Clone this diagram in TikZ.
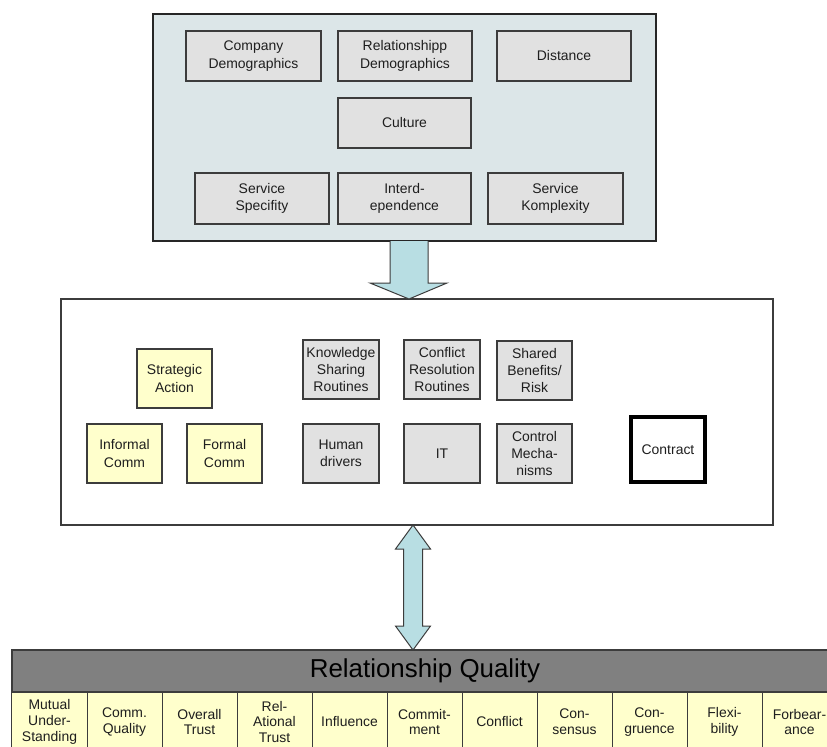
\documentclass[tikz,border=0pt]{standalone}
\usepackage{fontspec}
\setmainfont{Liberation Sans}
\usetikzlibrary{calc}
\definecolor{topfill}{HTML}{DCE6E8}
\definecolor{boxgray}{HTML}{E1E1E1}
\definecolor{boxline}{HTML}{3C3C3C}
\definecolor{pale}{HTML}{FFFFCC}
\definecolor{arrowblue}{HTML}{B8DEE3}
\definecolor{hdr}{HTML}{808080}
\definecolor{txt}{HTML}{1E1E1E}
\tikzset{
  box/.style={draw=boxline, line width=1.2bp, inner sep=0pt, outer sep=0pt, align=center, text=txt, font=\fontsize{14}{17.5}\selectfont},
  graybox/.style={box, fill=boxgray},
  yellowbox/.style={box, fill=pale},
  frame/.style={draw=boxline, inner sep=0pt, outer sep=0pt},
  fatarrow/.style={draw=boxline, fill=arrowblue, line width=1bp, line join=miter},
  cell/.style={draw=boxline, fill=pale, line width=1bp, inner sep=0pt, outer sep=0pt, minimum width=75bp, minimum height=60bp, align=center, text=txt, font=\fontsize{14}{16}\selectfont},
}
\begin{document}
\begin{tikzpicture}[x=1bp,y=-1bp]
\useasboundingbox (0,0) rectangle (827,747);
\clip (0,0) rectangle (827,747);
\fill[white] (0,0) rectangle (827,747);

% top box
\node[frame, draw=black!85, fill=topfill, line width=2.2bp, minimum width=503bp, minimum height=227bp] (top) at (404.5,127.5) {};
\node[graybox, minimum width=135bp, minimum height=50bp] (compdem) at (253.5,56) {Company\\Demographics};
\node[graybox, minimum width=134bp, minimum height=50bp] (reldem) at (405,56) {Relationshipp\\Demographics};
\node[graybox, minimum width=134bp, minimum height=50bp] (dist) at (564,56) {Distance};
\node[graybox, minimum width=133bp, minimum height=50bp] (culture) at (404.5,123) {Culture};
\node[graybox, minimum width=134bp, minimum height=51bp] (servspec) at (262,198.5) {Service\\Specifity};
\node[graybox, minimum width=133bp, minimum height=51bp] (interdep) at (404.5,198.5) {Interd-\\ependence};
\node[graybox, minimum width=135bp, minimum height=51bp] (servkomp) at (555.5,198.5) {Service\\Komplexity};

% middle box
\node[frame, fill=white, line width=1.5bp, minimum width=712bp, minimum height=226bp] (mid) at (417,412) {};
\node[yellowbox, minimum width=75bp, minimum height=59bp] (strat) at (174.5,378.5) {Strategic\\Action};
\node[yellowbox, minimum width=75bp, minimum height=59bp] (informal) at (124.5,453.5) {Informal\\Comm};
\node[yellowbox, minimum width=75bp, minimum height=59bp] (formal) at (224.5,453.5) {Formal\\Comm};
\node[graybox, minimum width=76bp, minimum height=59bp] (know) at (341,369.5) {Knowledge\\Sharing\\Routines};
\node[graybox, minimum width=76bp, minimum height=59bp] (confres) at (442,369.5) {Conflict\\Resolution\\Routines};
\node[graybox, minimum width=75bp, minimum height=59bp] (shared) at (534.5,370.5) {Shared\\Benefits/\\Risk};
\node[graybox, minimum width=76bp, minimum height=59bp] (human) at (341,453.5) {Human\\drivers};
\node[graybox, minimum width=76bp, minimum height=59bp] (it) at (442,453.5) {IT};
\node[graybox, minimum width=75bp, minimum height=59bp] (control) at (534.5,453.5) {Control\\Mecha-\\nisms};
\node[box, draw=black, fill=white, line width=4bp, minimum width=74bp, minimum height=65bp] (contract) at (668,449.5) {Contract};

% arrow top -> middle
\coordinate (a1) at (top.south -| 409,0);
\coordinate (a2) at (mid.north -| 409,0);
\draw[fatarrow] ($(a1)+(-19,0)$) -- ($(a2)+(-19,-16)$) -- ($(a2)+(-39,-16)$) -- (a2) -- ($(a2)+(38,-16)$) -- ($(a2)+(19,-16)$) -- ($(a1)+(19,0)$);

% table
\node[frame, fill=hdr, line width=1.2bp, minimum width=826bp, minimum height=42bp, text=black, font=\fontsize{26}{30}\selectfont] (rq) at (425,671) {Relationship Quality};
\foreach \t [count=\i] in {{Mutual\\Under-\\Standing},{Comm.\\Quality},{Overall\\Trust},{Rel-\\Ational\\Trust},{Influence},{Commit-\\ment},{Conflict},{Con-\\sensus},{Con-\\gruence},{Flexi-\\bility},{Forbear-\\ance}}{
  \node[cell] (c\i) at ({49.5+75*(\i-1)},722) {\t};
}

% double arrow middle <-> table
\coordinate (b1) at (mid.south -| 413,0);
\coordinate (b2) at (rq.north -| 413,0);
\draw[fatarrow] (b1) -- ($(b1)+(17.5,24)$) -- ($(b1)+(9.5,24)$) -- ($(b2)+(9.5,-24)$) -- ($(b2)+(17.5,-24)$) -- (b2) -- ($(b2)+(-17.5,-24)$) -- ($(b2)+(-9.5,-24)$) -- ($(b1)+(-9.5,24)$) -- ($(b1)+(-17.5,24)$) -- cycle;
\end{tikzpicture}
\end{document}
